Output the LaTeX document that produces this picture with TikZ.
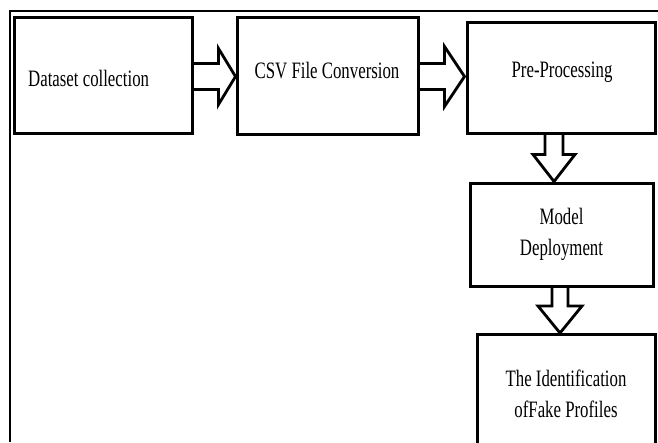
\documentclass[tikz,border=0pt]{standalone}
\usepackage{fontspec}
\setmainfont[FakeStretch=0.715]{Liberation Serif}
\usetikzlibrary{calc}
\begin{document}
\begin{tikzpicture}[x=1pt,y=-1pt,
  box/.style={draw, line width=3pt, inner sep=0pt, align=center, font=\fontsize{23.5}{31}\selectfont},
  lbl/.style={inner sep=0pt, font=\fontsize{23.5}{31}\selectfont},
  harrow/.style={draw, line width=2.8pt, line join=miter},
  frameline/.style={line width=2pt}]
\useasboundingbox (0,0) rectangle (658,442);
\draw[frameline] (10,442) -- (10,11) -- (658,11);

\node[box, minimum width=178pt, minimum height=116pt] (b1) at (103,75) {};
\node[lbl, anchor=base west] (t1) at (28,86.5) {Dataset collection};
\node[box, minimum width=181pt, minimum height=117pt] (b2) at (327.5,75.5) {};
\node[lbl, anchor=base] (t2) at (327,78) {CSV File Conversion};
\node[box, minimum width=188pt, minimum height=111pt] (b3) at (561,77.5) {};
\node[lbl, anchor=base] (t3) at (562,77.5) {Pre-Processing};
\node[box, minimum width=183pt, minimum height=103pt] (b4) at (561.5,234.5) {Model\\Deployment};
\node[box, minimum width=178pt, minimum height=119pt] (b5) at (566,394) {The Identification\\ofFake Profiles};

% arrow 1
\coordinate (a1s) at ($(b1.east)+(0,1.5)$);
\coordinate (a1t) at (b2.west |- a1s);
\draw[harrow] ($(a1s)+(0,-13)$) -- ($(a1t)+(-17,-13)$) -- ($(a1t)+(-17,-28)$) -- (a1t)
  -- ($(a1t)+(-17,28)$) -- ($(a1t)+(-17,13)$) -- ($(a1s)+(0,13)$);
% arrow 2
\coordinate (a2s) at ($(b2.east)+(0,1)$);
\coordinate (a2t) at ($(b3.west |- a2s)+(-1,0)$);
\draw[harrow] ($(a2s)+(0,-13)$) -- ($(a2t)+(-20,-13)$) -- ($(a2t)+(-20,-30)$) -- (a2t)
  -- ($(a2t)+(-20,30)$) -- ($(a2t)+(-20,13)$) -- ($(a2s)+(0,13)$);
% arrow 3
\coordinate (a3s) at ($(b3.south)+(-7,0)$);
\coordinate (a3t) at (a3s |- b4.north);
\draw[harrow] ($(a3s)+(-9,0)$) -- ($(a3t)+(-9,-27)$) -- ($(a3t)+(-21,-27)$) -- (a3t)
  -- ($(a3t)+(21,-27)$) -- ($(a3t)+(9,-27)$) -- ($(a3s)+(9,0)$);
% arrow 4
\coordinate (a4s) at ($(b4.south)+(-1.5,0)$);
\coordinate (a4t) at (a4s |- b5.north);
\draw[harrow] ($(a4s)+(-8,0)$) -- ($(a4t)+(-8,-27)$) -- ($(a4t)+(-22,-27)$) -- (a4t)
  -- ($(a4t)+(22,-27)$) -- ($(a4t)+(8,-27)$) -- ($(a4s)+(8,0)$);
\end{tikzpicture}
\end{document}
